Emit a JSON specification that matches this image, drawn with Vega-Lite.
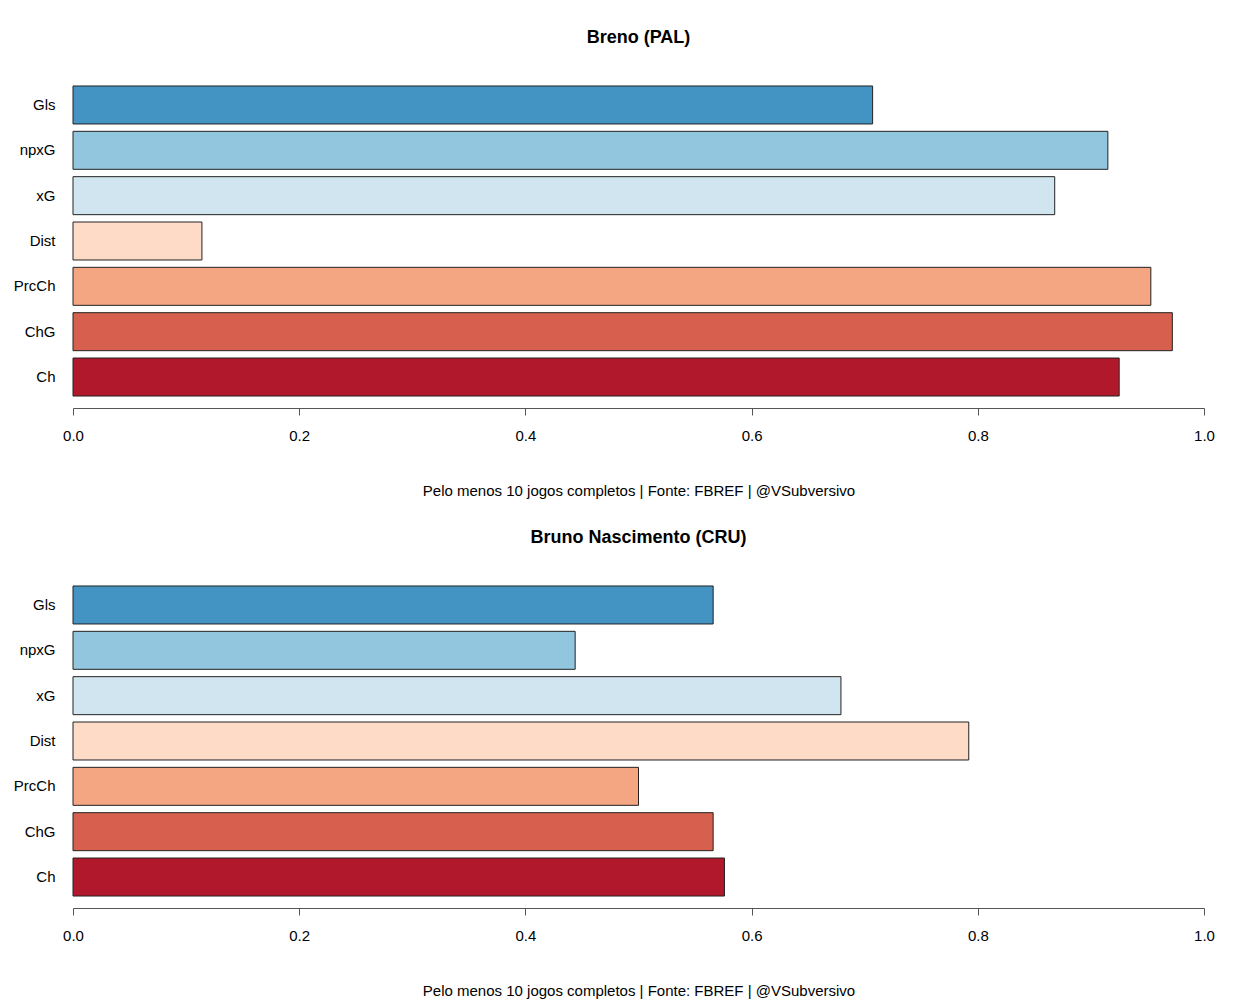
{
  "$schema": "https://vega.github.io/schema/vega-lite/v6.json",
  "padding": {"left": 13, "top": 29, "right": 20, "bottom": 5},
  "background": "white",
  "bounds": "flush",
  "spacing": 176,
  "config": {"font": "Liberation Sans", "view": {"stroke": null}},
  "datasets": {
    "d": [
      {"p": "Breno (PAL)", "stat": "Gls", "value": 0.707},
      {"p": "Breno (PAL)", "stat": "npxG", "value": 0.915},
      {"p": "Breno (PAL)", "stat": "xG", "value": 0.868},
      {"p": "Breno (PAL)", "stat": "Dist", "value": 0.114},
      {"p": "Breno (PAL)", "stat": "PrcCh", "value": 0.953},
      {"p": "Breno (PAL)", "stat": "ChG", "value": 0.972},
      {"p": "Breno (PAL)", "stat": "Ch", "value": 0.925},
      {"p": "Bruno Nascimento (CRU)", "stat": "Gls", "value": 0.566},
      {"p": "Bruno Nascimento (CRU)", "stat": "npxG", "value": 0.444},
      {"p": "Bruno Nascimento (CRU)", "stat": "xG", "value": 0.679},
      {"p": "Bruno Nascimento (CRU)", "stat": "Dist", "value": 0.792},
      {"p": "Bruno Nascimento (CRU)", "stat": "PrcCh", "value": 0.5},
      {"p": "Bruno Nascimento (CRU)", "stat": "ChG", "value": 0.566},
      {"p": "Bruno Nascimento (CRU)", "stat": "Ch", "value": 0.576}
    ]
  },
  "vconcat": [
    {
      "title": {"text": "Breno (PAL)", "fontSize": 18, "fontWeight": "bold", "offset": 32, "anchor": "middle", "color": "#000"},
      "width": 1131,
      "height": 324,
      "data": {"name": "d"},
      "transform": [{"filter": "datum.p == 'Breno (PAL)'"}],
      "mark": {"type": "bar", "stroke": "#222", "strokeWidth": 1},
      "encoding": {
        "y": {"field": "stat", "type": "nominal", "sort": ["Gls", "npxG", "xG", "Dist", "PrcCh", "ChG", "Ch"],
          "scale": {"paddingInner": 0.162, "paddingOuter": 0.154},
          "axis": {"title": null, "domain": false, "ticks": false, "labelPadding": 18, "labelFontSize": 15, "labelColor": "#000"}},
        "x": {"field": "value", "type": "quantitative", "scale": {"domain": [0, 1], "nice": false},
          "axis": {"values": [0, 0.2, 0.4, 0.6, 0.8, 1.0], "format": ".1f", "offset": 5, "grid": false, "domainColor": "#555", "tickColor": "#555", "tickSize": 7, "labelFontSize": 15, "labelColor": "#000", "labelPadding": 13, "labelFlush": false,
            "title": "Pelo menos 10 jogos completos | Fonte: FBREF | @VSubversivo", "titleFontWeight": "normal", "titleFontSize": 15, "titleColor": "#000", "titlePadding": 40}},
        "color": {"field": "stat", "type": "nominal",
          "scale": {"domain": ["Gls", "npxG", "xG", "Dist", "PrcCh", "ChG", "Ch"], "range": ["#4393C3", "#92C5DE", "#D1E5F0", "#FDDBC7", "#F4A582", "#D6604D", "#B2182B"]},
          "legend": null}
      }
    },
    {
      "title": {"text": "Bruno Nascimento (CRU)", "fontSize": 18, "fontWeight": "bold", "offset": 32, "anchor": "middle", "color": "#000"},
      "width": 1131,
      "height": 324,
      "data": {"name": "d"},
      "transform": [{"filter": "datum.p == 'Bruno Nascimento (CRU)'"}],
      "mark": {"type": "bar", "stroke": "#222", "strokeWidth": 1},
      "encoding": {
        "y": {"field": "stat", "type": "nominal", "sort": ["Gls", "npxG", "xG", "Dist", "PrcCh", "ChG", "Ch"],
          "scale": {"paddingInner": 0.162, "paddingOuter": 0.154},
          "axis": {"title": null, "domain": false, "ticks": false, "labelPadding": 18, "labelFontSize": 15, "labelColor": "#000"}},
        "x": {"field": "value", "type": "quantitative", "scale": {"domain": [0, 1], "nice": false},
          "axis": {"values": [0, 0.2, 0.4, 0.6, 0.8, 1.0], "format": ".1f", "offset": 5, "grid": false, "domainColor": "#555", "tickColor": "#555", "tickSize": 7, "labelFontSize": 15, "labelColor": "#000", "labelPadding": 13, "labelFlush": false,
            "title": "Pelo menos 10 jogos completos | Fonte: FBREF | @VSubversivo", "titleFontWeight": "normal", "titleFontSize": 15, "titleColor": "#000", "titlePadding": 40}},
        "color": {"field": "stat", "type": "nominal",
          "scale": {"domain": ["Gls", "npxG", "xG", "Dist", "PrcCh", "ChG", "Ch"], "range": ["#4393C3", "#92C5DE", "#D1E5F0", "#FDDBC7", "#F4A582", "#D6604D", "#B2182B"]},
          "legend": null}
      }
    }
  ]
}
